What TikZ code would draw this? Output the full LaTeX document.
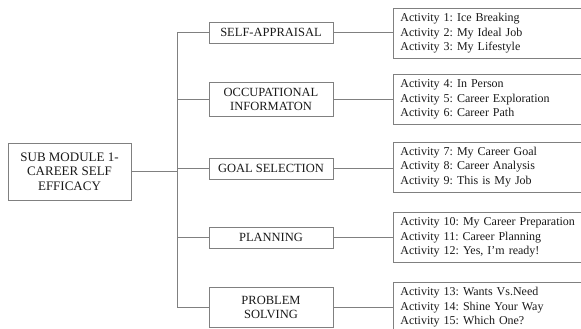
\documentclass[tikz,border=0pt]{standalone}
\usepackage{fontspec}
\setmainfont{Liberation Serif}
\frenchspacing
\definecolor{linegray}{gray}{0.5}
\definecolor{textgray}{gray}{0.1}
\begin{document}
\begin{tikzpicture}[x=1pt,y=-1pt,
	line/.style={draw=linegray, line width=0.7pt},
	box/.style={draw=linegray, line width=0.7pt, text=textgray, align=center, inner sep=2pt,
		font=\fontsize{12.5}{14}\selectfont},
	list/.style={box, anchor=west, align=left, text width=190pt, inner xsep=7pt,
		minimum height=50, font=\fontsize{12}{14.5}\selectfont}]
	\clip (0,0) rectangle (581,329);
	\node[box, minimum width=123, minimum height=57, font=\fontsize{13}{14.5}\selectfont] (root) at (69.5,171.5) {SUB MODULE 1-\\CAREER SELF\\EFFICACY};
	\node[box, minimum width=124, minimum height=21] (sa) at (271,32.5) {SELF-APPRAISAL};
	\node[box, minimum width=124, minimum height=34] (oi) at (271,99) {OCCUPATIONAL\\INFORMATON};
	\node[box, minimum width=124, minimum height=21] (gs) at (271,168.5) {GOAL SELECTION};
	\node[box, minimum width=124, minimum height=21] (pl) at (271,237.5) {PLANNING};
	\node[box, minimum width=124, minimum height=40] (ps) at (271,307) {PROBLEM\\SOLVING};
	\node[list] (A) at (393,33.5) {Activity 1: Ice Breaking\\Activity 2: My Ideal Job\\Activity 3: My Lifestyle};
	\node[list] (B) at (393,99.5) {Activity 4: In Person\\Activity 5: Career Exploration\\Activity 6: Career Path};
	\node[list] (C) at (393,167) {Activity 7: My Career Goal\\Activity 8: Career Analysis\\Activity 9: This is My Job};
	\node[list] (D) at (393,237.5) {Activity 10: My Career Preparation\\Activity 11: Career Planning\\Activity 12: Yes, I’m ready!};
	\node[list] (E) at (393,307.5) {Activity 13: Wants Vs.Need\\Activity 14: Shine Your Way\\Activity 15: Which One?};
	\coordinate (t) at (177,171.5);
	\draw[line] (root.east) -- (t);
	\foreach \m in {sa,oi,gs,pl,ps}
		\draw[line] (t) |- (\m.west);
	\foreach \m/\a in {sa/A,oi/B,gs/C,pl/D,ps/E}
		\draw[line] (\m.east) -- (\m.east -| \a.west);
\end{tikzpicture}
\end{document}
